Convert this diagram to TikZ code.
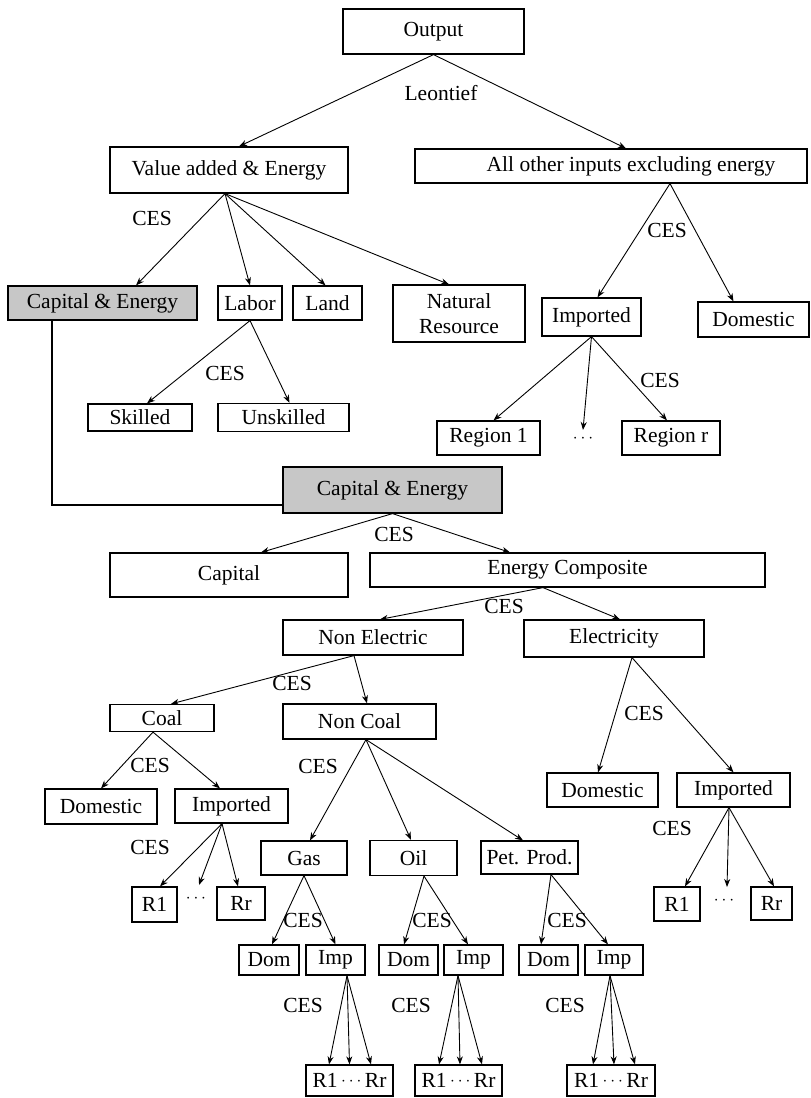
\documentclass[tikz,border=0pt]{standalone}
\usepackage{fontspec}
\setmainfont{Liberation Serif}
\usetikzlibrary{arrows.meta}
\newcommand\figfont{\fontsize{21.5}{25}\selectfont}
\newcommand\smalldots{\raisebox{2.5pt}{\fontsize{16}{16}\selectfont$\cdots$}}
\begin{document}
\begin{tikzpicture}[x=1pt,y=-1pt,
  box/.style={draw, line width=1.2pt, inner sep=0pt, align=center, font=\figfont},
  cebox/.style={box, fill=black!22},
  lab/.style={font=\figfont, inner sep=0pt},
  arr/.style={draw, line width=0.9pt, -{Stealth[length=8pt,width=6pt,inset=2.5pt]}},
  conn/.style={draw, line width=1.2pt}]
\useasboundingbox (0,0) rectangle (811,1098);
% nodes
\node[box,minimum width=181pt,minimum height=45pt] (out) at (433.5,31.5) {Output};
\node[lab] (leo) at (441,93) {Leontief};
\node[box,minimum width=238pt,minimum height=46pt] (va) at (229,170) {Value added \& Energy};
\node[box,minimum width=392pt,minimum height=34pt] (ao) at (611,166) {\hspace{40pt}All other inputs excluding energy};
\node[cebox,minimum width=189pt,minimum height=34pt] (ce1) at (102.5,303) {Capital \& Energy};
\node[box,minimum width=64pt,minimum height=34pt] (labor) at (250,303) {Labor};
\node[box,minimum width=69pt,minimum height=34pt] (land) at (327.5,303) {Land};
\node[box,minimum width=132pt,minimum height=57pt] (nr) at (459,313.5) {Natural\\Resource};
\node[box,minimum width=99pt,minimum height=38pt] (imp1) at (591.5,317) {Imported};
\node[box,minimum width=111pt,minimum height=35pt] (dom1) at (753.5,319.5) {Domestic};
\node[box,minimum width=104pt,minimum height=27pt] (skilled) at (140,417.5) {Skilled};
\node[box,minimum width=131pt,minimum height=28pt] (unsk) at (283.5,417.5) {Unskilled};
\node[box,minimum width=103pt,minimum height=34pt] (reg1) at (488.5,438) {Region 1};
\node[box,minimum width=98pt,minimum height=34pt] (regr) at (671,438) {Region r};
\node[lab] (dots1) at (583,440) {\smalldots};
\node[cebox,minimum width=219pt,minimum height=46pt] (ce2) at (392.5,490) {Capital \& Energy};
\node[box,minimum width=238pt,minimum height=44pt] (cap) at (229,575) {Capital};
\node[box,minimum width=395pt,minimum height=34pt] (ec) at (567.5,570) {Energy Composite};
\node[box,minimum width=180pt,minimum height=35pt] (ne) at (373,637.5) {Non Electric};
\node[box,minimum width=180pt,minimum height=37pt] (elec) at (614,638.5) {Electricity};
\node[box,minimum width=104pt,minimum height=27pt] (coal) at (162,718) {Coal};
\node[box,minimum width=153pt,minimum height=35pt] (nc) at (359.5,721.5) {Non Coal};
\node[box,minimum width=112pt,minimum height=35pt] (domc) at (101,806.5) {Domestic};
\node[box,minimum width=113pt,minimum height=34pt] (impc) at (231.5,806) {Imported};
\node[box,minimum width=111pt,minimum height=34pt] (dome) at (602.5,790) {Domestic};
\node[box,minimum width=113pt,minimum height=34pt] (impe) at (733.5,790) {Imported};
\node[box,minimum width=86pt,minimum height=34pt] (gas) at (304,858) {Gas};
\node[box,minimum width=87pt,minimum height=35pt] (oil) at (413.5,858) {Oil};
\node[box,minimum width=97pt,minimum height=33pt] (pet) at (529.5,857.5) {Pet. Prod.};
\node[box,minimum width=45pt,minimum height=35pt] (r1c) at (154.5,904.5) {R1};
\node[box,minimum width=48pt,minimum height=33pt] (rrc) at (241,903.5) {Rr};
\node[lab] (dotsc) at (196,900) {\smalldots};
\node[box,minimum width=46pt,minimum height=34pt] (r1e) at (677,904) {R1};
\node[box,minimum width=41pt,minimum height=33pt] (rre) at (771.5,903.5) {Rr};
\node[lab] (dotse) at (724,902) {\smalldots};
\node[box,minimum width=60pt,minimum height=30pt] (domg) at (269,960) {Dom};
\node[box,minimum width=59pt,minimum height=30pt] (impg) at (335.5,960) {Imp};
\node[box,minimum width=59pt,minimum height=30pt] (domo) at (408.5,960) {Dom};
\node[box,minimum width=59pt,minimum height=30pt] (impo) at (473.5,960) {Imp};
\node[box,minimum width=59pt,minimum height=30pt] (domp) at (548.5,960) {Dom};
\node[box,minimum width=58pt,minimum height=30pt] (impp) at (614,960) {Imp};
\node[box,minimum width=87pt,minimum height=31pt] (rg) at (349.5,1080.5) {R1\,\smalldots\,Rr};
\node[box,minimum width=87pt,minimum height=31pt] (ro) at (458.5,1080.5) {R1\,\smalldots\,Rr};
\node[box,minimum width=88pt,minimum height=31pt] (rp) at (611,1080.5) {R1\,\smalldots\,Rr};
% CES labels
\node[lab] at (152,218) {CES};
\node[lab] at (667,230) {CES};
\node[lab] at (225,373) {CES};
\node[lab] at (660,380) {CES};
\node[lab] at (394,534) {CES};
\node[lab] at (504,606) {CES};
\node[lab] at (292,683) {CES};
\node[lab] at (644,713) {CES};
\node[lab] at (150,765) {CES};
\node[lab] at (318,766) {CES};
\node[lab] at (150,847) {CES};
\node[lab] at (672,828) {CES};
\node[lab] at (303,920) {CES};
\node[lab] at (432,920) {CES};
\node[lab] at (567,920) {CES};
\node[lab] at (303,1005) {CES};
\node[lab] at (411,1005) {CES};
\node[lab] at (565,1005) {CES};
% connectors
\draw[arr] (out.south) -- ([xshift=10pt]va.north);
\draw[arr] (out.south) -- ([xshift=15pt]ao.north);
\draw[arr] ([xshift=-4pt]va.south) -- ([xshift=33.5pt]ce1.north);
\draw[arr] ([xshift=-4pt]va.south) -- (labor.north);
\draw[arr] ([xshift=-4pt]va.south) -- ([xshift=-2pt]land.north);
\draw[arr] ([xshift=-4pt]va.south) -- ([xshift=-10pt]nr.north);
\draw[arr] ([xshift=59pt]ao.south) -- ([xshift=6pt]imp1.north);
\draw[arr] ([xshift=59pt]ao.south) -- ([xshift=-20pt]dom1.north);
\draw[arr] (labor.south) -- ([xshift=7pt]skilled.north);
\draw[arr] (labor.south) -- ([xshift=6pt]unsk.north);
\draw[arr] (imp1.south) -- ([xshift=5pt]reg1.north);
\draw[arr] (imp1.south) -- ([yshift=10pt]dots1.center);
\draw[arr] (imp1.south) -- ([xshift=-4pt]regr.north);
\draw[conn] ([xshift=-50.5pt]ce1.south) |- ([yshift=-15pt]ce2.west);
\draw[arr] (ce2.south) -- ([xshift=32pt]cap.north);
\draw[arr] (ce2.south) -- ([xshift=-57.5pt]ec.north);
\draw[arr] ([xshift=-24.5pt]ec.south) -- ([xshift=7pt]ne.north);
\draw[arr] ([xshift=-24.5pt]ec.south) -- ([xshift=6pt]elec.north);
\draw[arr] ([xshift=-19pt]ne.south) -- ([xshift=9pt]coal.north);
\draw[arr] ([xshift=-19pt]ne.south) -- ([xshift=7.5pt]nc.north);
\draw[arr] ([xshift=18pt]elec.south) -- ([xshift=-4.5pt]dome.north);
\draw[arr] ([xshift=18pt]elec.south) -- (impe.north);
\draw[arr] ([xshift=-9pt]coal.south) -- (domc.north);
\draw[arr] ([xshift=-9pt]coal.south) -- ([xshift=-11.5pt]impc.north);
\draw[arr] ([xshift=6.5pt]nc.south) -- ([xshift=6pt]gas.north);
\draw[arr] ([xshift=6.5pt]nc.south) -- ([xshift=-2.5pt]oil.north);
\draw[arr] ([xshift=6.5pt]nc.south) -- ([xshift=-6.5pt]pet.north);
\draw[arr] ([xshift=-9.5pt]impc.south) -- ([xshift=5.5pt]r1c.north);
\draw[arr] ([xshift=-9.5pt]impc.south) -- ([xshift=3pt,yshift=15pt]dotsc.center);
\draw[arr] ([xshift=-9.5pt]impc.south) -- ([xshift=-3pt]rrc.north);
\draw[arr] ([xshift=-4.5pt]impe.south) -- ([xshift=8pt]r1e.north);
\draw[arr] ([xshift=-4.5pt]impe.south) -- ([xshift=3pt,yshift=15pt]dotse.center);
\draw[arr] ([xshift=-4.5pt]impe.south) -- ([xshift=2.5pt]rre.north);
\draw[arr] (gas.south) -- ([xshift=3pt]domg.north);
\draw[arr] (gas.south) -- (impg.north);
\draw[arr] ([xshift=10.5pt]oil.south) -- ([xshift=-4.5pt]domo.north);
\draw[arr] ([xshift=10.5pt]oil.south) -- ([xshift=-5.5pt]impo.north);
\draw[arr] ([xshift=21.5pt]pet.south) -- ([xshift=-7.5pt]domp.north);
\draw[arr] ([xshift=21.5pt]pet.south) -- ([xshift=-6pt]impp.north);
\draw[arr] ([xshift=11.5pt]impg.south) -- ([xshift=-20.5pt]rg.north);
\draw[arr] ([xshift=11.5pt]impg.south) -- (rg.north);
\draw[arr] ([xshift=11.5pt]impg.south) -- ([xshift=21.5pt]rg.north);
\draw[arr] ([xshift=-15.5pt]impo.south) -- ([xshift=-19.5pt]ro.north);
\draw[arr] ([xshift=-15.5pt]impo.south) -- ([xshift=1.5pt]ro.north);
\draw[arr] ([xshift=-15.5pt]impo.south) -- ([xshift=23.5pt]ro.north);
\draw[arr] ([xshift=-4pt]impp.south) -- ([xshift=-18pt]rp.north);
\draw[arr] ([xshift=-4pt]impp.south) -- ([xshift=3pt]rp.north);
\draw[arr] ([xshift=-4pt]impp.south) -- ([xshift=24pt]rp.north);
\end{tikzpicture}
\end{document}
